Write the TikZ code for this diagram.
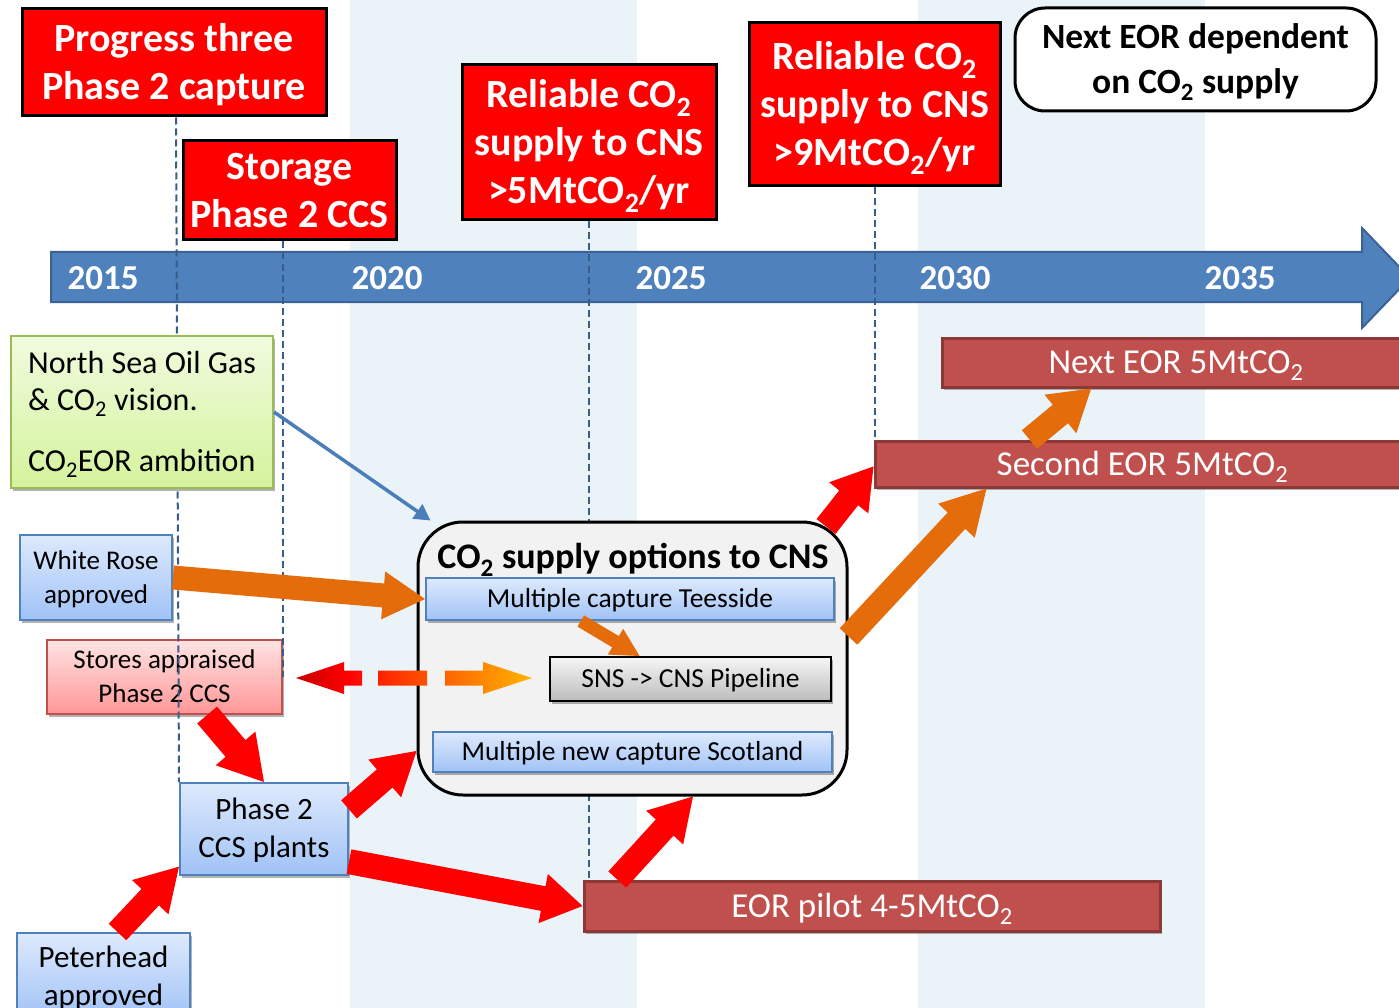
\documentclass[tikz,border=0pt]{standalone}
\usepackage{fontspec}
\setmainfont{Carlito}
\usetikzlibrary{calc,shadows,arrows.meta}

\definecolor{bandblue}{RGB}{234,243,247}
\definecolor{axisblue}{RGB}{79,129,189}
\definecolor{axisedge}{RGB}{58,98,150}
\definecolor{guideblue}{RGB}{56,93,138}
\definecolor{boxblueT}{RGB}{222,234,253}
\definecolor{boxblueB}{RGB}{160,194,246}
\definecolor{boxblueE}{RGB}{79,129,189}
\definecolor{pinkT}{RGB}{255,228,228}
\definecolor{pinkB}{RGB}{255,150,150}
\definecolor{pinkE}{RGB}{192,80,77}
\definecolor{greenT}{RGB}{240,251,222}
\definecolor{greenB}{RGB}{212,243,156}
\definecolor{greenE}{RGB}{155,187,89}
\definecolor{greyT}{RGB}{246,246,246}
\definecolor{greyB}{RGB}{188,188,188}
\definecolor{panel}{RGB}{242,242,242}
\definecolor{eorfill}{RGB}{192,80,77}
\definecolor{eoredge}{RGB}{140,56,54}
\definecolor{flowred}{RGB}{255,0,0}
\definecolor{floworange}{RGB}{228,108,10}
\definecolor{linkblue}{RGB}{74,126,187}
\definecolor{dashL}{RGB}{200,0,0}
\definecolor{dashM}{RGB}{255,70,0}
\definecolor{dashR}{RGB}{255,182,0}

% colour ramp for the two-way dashed arrow
\pgfdeclarehorizontalshading{dashramp}{100bp}{color(0bp)=(dashL); color(25bp)=(dashL);
  color(36bp)=(red); color(50bp)=(dashM); color(75bp)=(dashR); color(100bp)=(dashR)}

\newcommand\fs[2]{\fontsize{#1}{#2}\selectfont}
\newcommand\subs[1]{\textsubscript{#1}}

% block arrow: #1 fill, #2 tail, #3 tip, #4 half shaft width, #5 half head width, #6 head length
\newcommand\blockarrow[6]{%
  \coordinate (ba-t) at (#2);
  \coordinate (ba-h) at (#3);
  \coordinate (ba-b) at ($(ba-h)!#6!(ba-t)$);
  \fill[#1] ($(ba-t)!#4!90:(ba-h)$) -- ($(ba-b)!#4!-90:(ba-t)$)
    -- ($(ba-b)!#5!-90:(ba-t)$) -- (ba-h) -- ($(ba-b)!#5!90:(ba-t)$)
    -- ($(ba-b)!#4!90:(ba-t)$) -- ($(ba-t)!#4!-90:(ba-h)$) -- cycle;
}

\tikzset{
  softshadow/.style={drop shadow={shadow xshift=2pt,shadow yshift=-3pt,opacity=0.3,fill=black}},
  % text boxes centred on the cap height of their lines
  capbox/.style={text height=#1, text depth=0pt},
  redhead/.style={draw=black, line width=3pt, fill=flowred, text=white,
    font=\fs{40}{48}\bfseries, align=center, inner sep=0pt},
  notebox/.style={draw=black, line width=3pt, fill=white, rounded corners=30pt,
    font=\fs{35.5}{45}\bfseries, align=center, inner sep=0pt},
  bluebox/.style={draw=boxblueE, line width=2pt, top color=boxblueT, bottom color=boxblueB,
    align=center, inner sep=0pt, softshadow},
  pinkbox/.style={draw=pinkE, line width=2pt, top color=pinkT, bottom color=pinkB,
    align=center, inner sep=0pt, softshadow},
  greenbox/.style={draw=greenE, line width=2pt, top color=greenT, bottom color=greenB,
    align=left, inner sep=0pt, softshadow},
  greybox/.style={draw=black, line width=2pt, top color=greyT, bottom color=greyB,
    align=center, inner sep=0pt, softshadow},
  eorbar/.style={draw=eoredge, line width=3pt, fill=eorfill, text=white,
    font=\fs{35}{42}, inner sep=0pt, softshadow, capbox=22.1pt},
  year/.style={text=white, font=\fs{35}{42}\bfseries, inner sep=0pt, capbox=22.1pt},
  guide/.style={draw=guideblue, line width=2pt, dash pattern=on 7pt off 4pt},
}

\begin{document}
\begin{tikzpicture}[x=1pt,y=-1pt]
\useasboundingbox (0,0) rectangle (1399,1008);
\fill[white] (0,0) rectangle (1399,1008);

% shaded period bands
\fill[bandblue] (350,0) rectangle (637,1008);
\fill[bandblue] (918,0) rectangle (1205,1008);

% time axis
\filldraw[fill=axisblue, draw=axisedge, line width=2pt, line join=miter]
  (51,252) -- (1362,252) -- (1362,228) -- (1410,278) -- (1362,328) -- (1362,302) -- (51,302) -- cycle;
\node[year] (y2015) at (103,278) {2015};
\node[year] (y2020) at (387,278) {2020};
\node[year] (y2025) at (671,278) {2025};
\node[year] (y2030) at (955,278) {2030};
\node[year] (y2035) at (1240,278) {2035};

% milestone boxes
\node[redhead, capbox=73.3pt, minimum width=304pt, minimum height=107pt] (rb1) at (174,62.5)
  {Progress three\\Phase 2 capture};
\node[redhead, capbox=73.3pt, minimum width=213pt, minimum height=99pt] (rb2) at (289.5,190.5)
  {Storage\\Phase 2 CCS};
\node[redhead, capbox=121.3pt, minimum width=254pt, minimum height=155pt] (rb3) at (589,142.5)
  {Reliable CO\subs{2}\\supply to CNS\\>5MtCO\subs{2}/yr};
\node[redhead, capbox=121.3pt, minimum width=251pt, minimum height=163pt] (rb4) at (874.5,104.5)
  {Reliable CO\subs{2}\\supply to CNS\\>9MtCO\subs{2}/yr};
\node[notebox, capbox=67.4pt, minimum width=361pt, minimum height=103pt] (note) at (1195.5,59.5)
  {Next EOR dependent\\on CO\subs{2} supply};

% side boxes, placed first so the guides can be hidden by them
\node[pinkbox, capbox=51pt, minimum width=235pt, minimum height=74pt, font=\fs{27}{34}] (stores) at (164.5,677)
  {Stores appraised\\Phase 2 CCS};
\node[bluebox, capbox=57.6pt, minimum width=168pt, minimum height=92pt, font=\fs{31}{38}] (p2) at (264,829)
  {Phase 2\\CCS plants};
\node[eorbar, minimum width=576pt, minimum height=50pt] (eorp) at (872,906)
  {EOR pilot 4-5MtCO\subs{2}};
\node[eorbar, minimum width=535pt, minimum height=46pt] (eor2) at (1142.5,464)
  {Second EOR 5MtCO\subs{2}};
\node[eorbar, minimum width=468pt, minimum height=49pt] (eor3) at (1176,362.5)
  {Next EOR 5MtCO\subs{2}};

% dashed milestone guides
\coordinate (g1) at ($(rb1.south)+(2,0)$);
\coordinate (g2) at ($(rb2.south)+(-6.5,0)$);
\draw[guide] (g1) -- (p2.north west);
\draw[guide] (g2) -- (g2 |- stores.east);
\draw[guide] (rb3.south) -- (rb3.south |- eorp.north);
\draw[guide] (rb4.south) -- (rb4.south |- eor2.north);

% boxes lying over the guides
\node[greenbox, capbox=118.2pt, minimum width=262pt, minimum height=152pt, font=\fs{32}{37}] (vision) at (142,412)
  {North Sea Oil Gas\\\& CO\subs{2} vision.\\[24pt]CO\subs{2}EOR ambition};
\node[bluebox, capbox=51pt, minimum width=152pt, minimum height=85pt, font=\fs{27}{34}] (wr) at (96,577.5)
  {White Rose\\approved};
\node[bluebox, capbox=57.6pt, minimum width=173pt, minimum height=87pt, font=\fs{31}{38}] (pete) at (103.5,976.5)
  {Peterhead\\approved};

% CO2 supply panel
\node[draw=black, line width=3pt, fill=panel, rounded corners=45pt,
  minimum width=429pt, minimum height=273pt, inner sep=0pt] (co2) at (632.5,658.5) {};
\node[font=\fs{36}{42}\bfseries, inner sep=0pt, capbox=22.8pt] (co2t) at (633,557) {CO\subs{2} supply options to CNS};
\node[bluebox, capbox=17.1pt, minimum width=408pt, minimum height=42pt, font=\fs{27.5}{32}] (tees) at (630,599)
  {Multiple capture Teesside};
\node[greybox, capbox=17.1pt, minimum width=281pt, minimum height=44pt, font=\fs{27.5}{32}] (sns) at (690.5,679)
  {SNS -> CNS Pipeline};
\node[bluebox, capbox=17.1pt, minimum width=399pt, minimum height=40pt, font=\fs{27.5}{32}] (scot) at (632.5,752)
  {Multiple new capture Scotland};

% vision link
\draw[linkblue, line width=3.5pt, -{Triangle[length=16pt,width=17pt]}]
  (vision.east) -- ($(co2.north west)+(14,0)$);

% flows
\blockarrow{floworange}{wr.east}{tees.west}{12pt}{24pt}{42pt}
\blockarrow{floworange}{$(tees.south west)!0.38!(tees.south east)$}{$(sns.north west)!0.32!(sns.north east)$}{6.5pt}{15pt}{28pt}
\blockarrow{flowred}{$(stores.south west)!0.68!(stores.south east)$}{p2.north}{13pt}{26pt}{44pt}
\blockarrow{flowred}{p2.13}{$(co2.south west)!0.165!(co2.north west)$}{12pt}{25pt}{42pt}
\blockarrow{flowred}{p2.-21}{eorp.west}{12.5pt}{25pt}{40pt}
\blockarrow{flowred}{$(pete.north west)!0.58!(pete.north east)$}{$(p2.south west)!0.1!(p2.north west)$}{12pt}{25pt}{42pt}
\blockarrow{flowred}{$(eorp.north west)!0.06!(eorp.north east)$}{$(co2.south west)!0.64!(co2.south east)$}{12pt}{25pt}{42pt}
\blockarrow{flowred}{$(co2.north east)+(-22.5,6)$}{$(eor2.south west)!0.45!(eor2.north west)$}{12pt}{25pt}{40pt}
\blockarrow{floworange}{$(co2.east)+(0,-22)$}{$(eor2.south west)!0.21!(eor2.south east)$}{12pt}{25pt}{44pt}
\blockarrow{floworange}{$(eor2.north west)!0.29!(eor2.north east)$}{$(eor3.south west)!0.32!(eor3.south east)$}{12pt}{25pt}{40pt}

% dashed two-way link between stores and pipeline
\coordinate (dl) at ($(stores.east)+(13,1)$);
\coordinate (dr) at ($(sns.west)+(-17,-1)$);
\shade[shading=dashramp]
  (dl) -- ($(dl)+(48,-16)$) -- ($(dl)+(48,-7.5)$) -- ($(dl)+(66,-7.5)$)
       -- ($(dl)+(66,7.5)$) -- ($(dl)+(48,7.5)$) -- ($(dl)+(48,16)$) -- cycle
  ($(dl)+(82,-7.5)$) rectangle ($(dl)+(131,7.5)$)
  ($(dl)+(149,-7.5)$) -- ($(dr)+(-49,-7.5)$) -- ($(dr)+(-49,-16)$) -- (dr)
       -- ($(dr)+(-49,16)$) -- ($(dr)+(-49,7.5)$) -- ($(dl)+(149,7.5)$) -- cycle;
\end{tikzpicture}
\end{document}
